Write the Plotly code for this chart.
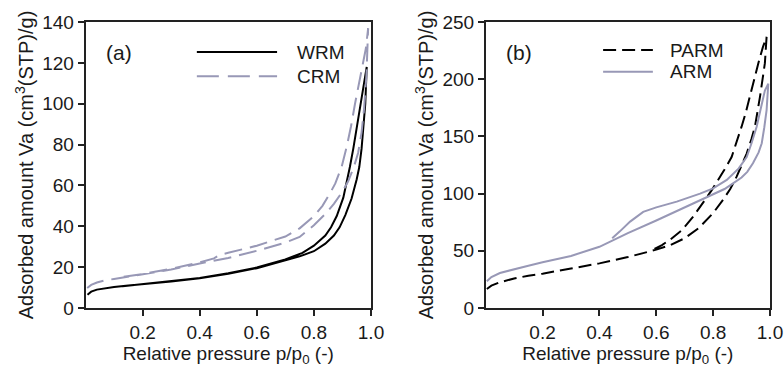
import plotly.graph_objects as go
from plotly.subplots import make_subplots

# ---------------- data ----------------
# Panel (a)
WRM_ads_p = [0.007, 0.02, 0.04, 0.07, 0.1, 0.15, 0.2, 0.3, 0.4, 0.5, 0.6, 0.7, 0.75, 0.8, 0.84, 0.87, 0.89, 0.91, 0.932, 0.95, 0.959, 0.967, 0.973, 0.98, 0.985]
WRM_ads_v = [6.5, 8.0, 9.0, 9.8, 10.3, 11.0, 11.6, 13.0, 14.5, 16.8, 19.5, 23.3, 25.3, 27.8, 31.5, 35.5, 39.5, 45.5, 53.6, 63, 69, 78, 87, 100, 118]
WRM_des_p = [0.985, 0.978, 0.973, 0.962, 0.95, 0.938, 0.926, 0.903, 0.88, 0.86, 0.84, 0.8, 0.76, 0.7, 0.6, 0.5, 0.4, 0.3, 0.2, 0.13]
WRM_des_v = [118, 112, 108, 97, 87, 78, 69, 54, 45, 39.5, 35.5, 30.5, 27, 23.8, 19.8, 17.0, 14.7, 13.2, 11.8, 10.6]

CRM_ads_p = [0.006, 0.02, 0.04, 0.07, 0.1, 0.15, 0.2, 0.3, 0.4, 0.45, 0.5, 0.6, 0.7, 0.75, 0.8, 0.84, 0.87, 0.9, 0.92, 0.94, 0.955, 0.967, 0.976, 0.984, 0.99]
CRM_ads_v = [9.8, 11.3, 12.5, 13.6, 14.2, 15.3, 16.3, 18.8, 21.8, 23.0, 24.5, 28.0, 32.0, 34.8, 40.5, 46, 51, 57, 62, 69, 76, 86, 98, 114, 137]
CRM_des_p = [0.99, 0.982, 0.975, 0.967, 0.955, 0.944, 0.93, 0.915, 0.897, 0.875, 0.856, 0.83, 0.8, 0.75, 0.7, 0.6, 0.5, 0.47, 0.45, 0.4, 0.3, 0.2, 0.12]
CRM_des_v = [137, 127, 122, 118, 108, 100, 89, 79, 69, 61, 56, 50, 45, 39, 35, 30.5, 27, 26, 24.3, 22.3, 19.2, 16.6, 15.0]

# Panel (b)
PARM_ads_p = [0.004, 0.02, 0.05, 0.1, 0.15, 0.2, 0.3, 0.4, 0.5, 0.6, 0.65, 0.7, 0.75, 0.8, 0.836, 0.86, 0.883, 0.9, 0.918, 0.935, 0.947, 0.965, 0.982, 0.988]
PARM_ads_v = [16.6, 19.5, 22.5, 25.8, 28.2, 30, 34.5, 39, 44.5, 51, 55, 61, 70, 83, 95, 104, 115, 124, 135, 148, 158.5, 185, 214, 237]
PARM_des_p = [0.988, 0.975, 0.959, 0.945, 0.93, 0.915, 0.9, 0.883, 0.865, 0.84, 0.818, 0.795, 0.771, 0.73, 0.69, 0.65, 0.62, 0.58]
PARM_des_v = [237, 228, 214, 200, 185, 171, 158.5, 145, 132, 121, 112, 103, 94.4, 80, 68, 60, 55, 50]

ARM_ads_p = [0.004, 0.02, 0.05, 0.1, 0.15, 0.2, 0.3, 0.4, 0.46, 0.5, 0.6, 0.7, 0.79, 0.84, 0.87, 0.9, 0.92, 0.94, 0.96, 0.971, 0.98, 0.988, 0.994]
ARM_ads_v = [23.3, 27, 30.6, 34, 37, 40, 45.5, 53.5, 61, 65.5, 76.5, 88, 98, 104, 109, 114, 119, 126.5, 136, 144, 158, 173, 196]
ARM_des_p = [0.994, 0.982, 0.97, 0.953, 0.935, 0.918, 0.89, 0.848, 0.8, 0.754, 0.672, 0.6, 0.554, 0.508, 0.472, 0.445]
ARM_des_v = [196, 190, 177, 158.5, 144, 132, 122, 112, 104.5, 100, 93, 88, 84, 75.5, 67, 61]

x_ticks = [0.2, 0.4, 0.6, 0.8, 1.0]
x_ticktext = ["0.2", "0.4", "0.6", "0.8", "1.0"]
ya_ticks = [0, 20, 40, 60, 80, 100, 120, 140]
yb_ticks = [0, 50, 100, 150, 200, 250]

# ---------------- styles ----------------
BLACK = "#000000"
GRAY = "#9898b6"
FONT = "Liberation Sans, Arial, sans-serif"
TXT = "#1a1a1a"

fig = make_subplots(rows=1, cols=2)

series = [
    ("WRM", WRM_ads_p, WRM_ads_v, WRM_des_p, WRM_des_v, BLACK, "solid", 1, 1),
    ("CRM", CRM_ads_p, CRM_ads_v, CRM_des_p, CRM_des_v, GRAY, "18px,8px", 1, 1),
    ("PARM", PARM_ads_p, PARM_ads_v, PARM_des_p, PARM_des_v, BLACK, "13px,6px", 1, 2),
    ("ARM", ARM_ads_p, ARM_ads_v, ARM_des_p, ARM_des_v, GRAY, "solid", 1, 2),
]
for name, ap, av, dp, dv, col, dash, r, c in series:
    fig.add_trace(
        go.Scatter(x=ap + dp, y=av + dv, mode="lines", name=name,
                   line=dict(color=col, width=2, dash=dash), showlegend=False),
        row=r, col=c)

dom_a = [85.5 / 784, 371 / 784]
dom_b = [485.7 / 784, 770 / 784]
dom_y = [1 - 308 / 369, 1 - 22 / 369]

axis_common = dict(showline=True, linecolor="#222222", linewidth=1.5, mirror=True,
                   ticks="outside", ticklen=6, tickwidth=1.5, tickcolor="#222222",
                   showgrid=False, zeroline=False, automargin=False,
                   tickfont=dict(family=FONT, size=19, color=TXT))

title_x = dict(text="Relative pressure p/p<sub>0</sub> (-)", font=dict(family=FONT, size=19, color=TXT), standoff=0)
title_y = dict(text="Adsorbed amount Va (cm<sup>3</sup>(STP)/g)", font=dict(family=FONT, size=20, color=TXT), standoff=3)

fig.update_xaxes(**axis_common, range=[0, 1.0], tickvals=x_ticks, ticktext=x_ticktext, title=title_x)
fig.update_layout(
    xaxis=dict(domain=dom_a),
    xaxis2=dict(domain=dom_b),
    yaxis=dict(domain=dom_y, range=[0, 140], tickvals=ya_ticks, **axis_common, title=title_y),
    yaxis2=dict(domain=dom_y, range=[0, 250], tickvals=yb_ticks, **axis_common, title=title_y),
    width=784, height=369,
    margin=dict(l=0, r=0, t=0, b=0),
    paper_bgcolor="white", plot_bgcolor="white",
    showlegend=False,
)

# legend keys and panel labels
def legend_key(xr, yr, x0, x1, y, col, dash, label, tx):
    fig.add_shape(type="line", xref=xr, yref=yr, x0=x0, x1=x1, y0=y, y1=y,
                  line=dict(color=col, width=2, dash=dash))
    fig.add_annotation(xref=xr, yref=yr, x=tx, y=y, text=label, showarrow=False,
                       xanchor="left", yanchor="middle",
                       font=dict(family=FONT, size=19, color=TXT))

legend_key("x domain", "y domain", 0.39, 0.671, 0.895, BLACK, "solid", "WRM", 0.734)
legend_key("x domain", "y domain", 0.39, 0.671, 0.81, GRAY, "22px,9px", "CRM", 0.734)
legend_key("x2 domain", "y2 domain", 0.413, 0.588, 0.902, BLACK, "13px,6px", "PARM", 0.642)
legend_key("x2 domain", "y2 domain", 0.413, 0.588, 0.826, GRAY, "solid", "ARM", 0.642)

fig.add_annotation(xref="x domain", yref="y domain", x=0.066, y=0.895, text="(a)", showarrow=False,
                   xanchor="left", yanchor="middle", font=dict(family=FONT, size=21, color=TXT))
fig.add_annotation(xref="x2 domain", yref="y2 domain", x=0.066, y=0.895, text="(b)", showarrow=False,
                   xanchor="left", yanchor="middle", font=dict(family=FONT, size=21, color=TXT))

fig.write_html("out.html")
